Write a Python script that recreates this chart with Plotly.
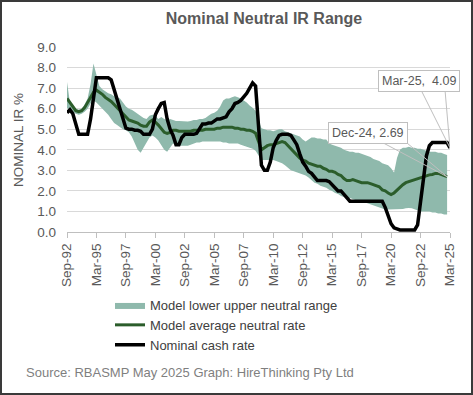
import pandas as pd
import plotly.graph_objects as go

# ---------------- data (quarterly, Sep-92 .. Mar-25) ----------------
start_quarter = "1992-09-01"

cash_rate = [
    5.80, 5.95, 5.75, 5.25, 4.75, 4.75, 4.75, 4.75, 5.50, 6.60,
    7.50, 7.50, 7.50, 7.50, 7.50, 7.40, 6.90, 6.40, 5.95, 5.50,
    5.05, 5.00, 5.00, 4.95, 4.95, 4.90, 4.75, 4.75, 4.75, 5.00,
    5.70, 6.00, 6.25, 6.30, 5.50, 5.00, 4.70, 4.25, 4.25, 4.60,
    4.75, 4.75, 4.75, 4.75, 4.80, 5.00, 5.25, 5.25, 5.30, 5.30,
    5.40, 5.50, 5.50, 5.55, 5.60, 5.85, 6.00, 6.25, 6.30, 6.40,
    6.55, 6.75, 7.00, 7.25, 7.10, 5.20, 3.25, 3.00, 3.00, 3.40,
    4.10, 4.45, 4.70, 4.75, 4.75, 4.75, 4.70, 4.50, 4.25, 3.80,
    3.40, 3.20, 2.95, 2.85, 2.65, 2.50, 2.50, 2.50, 2.50, 2.45,
    2.30, 2.10, 2.00, 2.00, 1.85, 1.65, 1.50, 1.50, 1.50, 1.50,
    1.50, 1.50, 1.50, 1.50, 1.50, 1.50, 1.50, 1.50, 1.20, 0.80,
    0.40, 0.20, 0.15, 0.10, 0.10, 0.10, 0.10, 0.10, 0.10, 0.35,
    1.50, 2.60, 3.70, 4.20, 4.35, 4.35, 4.35, 4.35, 4.35, 4.35,
    4.09,
]

avg_neutral = [
    6.50, 6.30, 6.05, 5.90, 5.85, 5.90, 6.05, 6.30, 6.55, 6.80,
    6.90, 6.80, 6.70, 6.55, 6.45, 6.35, 6.20, 6.05, 5.90, 5.75,
    5.55, 5.45, 5.40, 5.35, 5.30, 5.20, 5.15, 5.15, 5.35, 5.45,
    5.35, 5.20, 5.00, 4.85, 4.80, 4.85, 4.95, 4.95, 4.90, 4.90,
    4.90, 4.90, 4.90, 4.95, 4.95, 4.95, 4.95, 5.00, 5.00, 5.00,
    5.00, 5.05, 5.05, 5.10, 5.10, 5.10, 5.10, 5.05, 5.05, 5.00,
    5.00, 4.95, 4.95, 4.90, 4.80, 4.40, 4.00, 4.10, 4.20, 4.25,
    4.25, 4.30, 4.35, 4.40, 4.35, 4.20, 4.00, 3.85, 3.70, 3.60,
    3.50, 3.45, 3.35, 3.30, 3.25, 3.20, 3.20, 3.10, 3.05, 2.95,
    2.95, 2.90, 2.80, 2.75, 2.60, 2.50, 2.50, 2.55, 2.50, 2.45,
    2.40, 2.40, 2.40, 2.35, 2.30, 2.25, 2.20, 2.05, 2.00, 1.90,
    1.82, 1.90, 2.05, 2.15, 2.30, 2.40, 2.45, 2.50, 2.55, 2.60,
    2.65, 2.70, 2.75, 2.78, 2.80, 2.85, 2.85, 2.80, 2.75, 2.69,
]

upper_neutral = [
    7.30, 6.30, 6.05, 6.00, 5.95, 6.00, 6.20, 6.50, 7.20, 8.20,
    7.70, 7.10, 6.95, 6.85, 6.75, 6.70, 6.60, 6.55, 6.50, 6.30,
    6.10, 6.00, 5.95, 5.85, 5.75, 5.65, 5.55, 5.50, 5.65, 5.70,
    5.65, 5.50, 5.60, 5.50, 5.45, 5.50, 5.45, 5.40, 5.40, 5.38,
    5.37, 5.37, 5.40, 5.45, 5.45, 5.50, 5.50, 5.55, 5.65, 5.75,
    5.80, 5.90, 6.10, 6.40, 6.50, 6.50, 6.55, 6.60, 6.55, 6.50,
    6.40, 6.30, 6.15, 6.05, 5.90, 5.50, 5.05, 5.00, 4.95, 4.95,
    4.90, 4.95, 5.00, 5.00, 4.90, 4.85, 4.80, 4.75, 4.70, 4.65,
    4.50, 4.40, 4.50, 4.60, 4.60, 4.55, 4.55, 4.50, 4.50, 4.30,
    4.25, 4.20, 4.15, 4.10, 4.00, 3.95, 3.90, 3.90, 3.85, 3.85,
    3.80, 3.75, 3.70, 3.65, 3.55, 3.50, 3.45, 3.35, 3.30, 3.25,
    3.10, 2.90, 3.60, 4.00, 4.10, 4.10, 4.15, 4.10, 4.10, 4.05,
    4.05, 4.00, 3.95, 3.90, 3.90, 3.90, 3.85, 3.85, 3.80, 3.75,
]

lower_neutral = [
    6.05, 5.90, 5.85, 5.75, 5.70, 5.75, 5.85, 6.00, 6.25, 6.40,
    6.30, 6.15, 6.00, 5.85, 5.70, 5.50, 5.30, 5.20, 5.10, 5.00,
    4.95, 4.85, 4.65, 4.30, 4.00, 3.85, 4.10, 4.40, 4.60, 4.70,
    4.60, 4.45, 4.20, 4.00, 3.90, 4.10, 4.30, 4.25, 4.20, 4.20,
    4.20, 4.20, 4.25, 4.30, 4.35, 4.35, 4.40, 4.40, 4.40, 4.40,
    4.40, 4.40, 4.40, 4.35, 4.35, 4.30, 4.30, 4.30, 4.30, 4.25,
    4.20, 4.15, 4.10, 4.05, 3.95, 3.70, 3.50, 3.50, 3.50, 3.50,
    3.50, 3.45, 3.40, 3.35, 3.25, 3.10, 3.00, 2.95, 2.90, 2.85,
    2.80, 2.75, 2.65, 2.50, 2.40, 2.35, 2.25, 2.20, 2.15, 2.05,
    2.00, 1.90, 1.85, 1.75, 1.70, 1.65, 1.65, 1.60, 1.55, 1.50,
    1.50, 1.45, 1.40, 1.35, 1.30, 1.25, 1.20, 1.15, 1.10, 1.10,
    1.10, 1.10, 1.10, 1.10, 1.12, 1.15, 1.17, 1.15, 1.10, 1.05,
    1.00, 1.00, 1.00, 1.00, 0.95, 0.95, 0.90, 0.90, 0.85, 0.85,
]

tick_labels = ["Sep-92", "Mar-95", "Sep-97", "Mar-00", "Sep-02", "Mar-05", "Sep-07",
               "Mar-10", "Sep-12", "Mar-15", "Sep-17", "Mar-20", "Sep-22", "Mar-25"]

# ---------------- figure ----------------
quarters = pd.date_range(start_quarter, periods=len(cash_rate), freq="3MS")
model_q = quarters[:len(avg_neutral)]
tick_vals = list(quarters[::10])

FONT = "Liberation Sans, Arial, sans-serif"
BAND = "rgb(143,185,172)"
GREEN = "#2b5d2b"
GREY_TXT = "#595959"

fig = go.Figure()
fig.add_trace(go.Scatter(x=model_q, y=upper_neutral, mode="lines", line=dict(width=0),
                         showlegend=False, hoverinfo="skip"))
fig.add_trace(go.Scatter(x=model_q, y=lower_neutral, mode="lines", line=dict(width=0),
                         fill="tonexty", fillcolor=BAND,
                         name="Model lower upper neutral range"))
fig.add_trace(go.Scatter(x=model_q, y=avg_neutral, mode="lines",
                         line=dict(color=GREEN, width=3),
                         name="Model average neutral rate"))
fig.add_trace(go.Scatter(x=quarters, y=cash_rate, mode="lines",
                         line=dict(color="black", width=3.5),
                         name="Nominal cash rate"))

L, R, T, B = 67, 23, 47, 163
W, H = 473, 395
PW, PH = W - L - R, H - T - B


def px_x(px):
    return (px - L) / PW


def px_y(py):
    return (H - B - py) / PH


fig.update_layout(
    width=W, height=H,
    margin=dict(l=L, r=R, t=T, b=B),
    paper_bgcolor="white", plot_bgcolor="white",
    font=dict(family=FONT, color=GREY_TXT),
    title=dict(text="<b>Nominal Neutral IR Range</b>", x=264 / W, xanchor="center",
               y=1 - 18 / H, yanchor="middle", font=dict(size=16, color=GREY_TXT, family=FONT)),
    xaxis=dict(type="date", range=[quarters[0], quarters[-1]],
               tickvals=tick_vals, ticktext=tick_labels, tickangle=-90,
               showgrid=False, showline=True, linecolor="#bfbfbf", linewidth=1,
               ticks="outside", ticklen=5, tickcolor="#bfbfbf",
               tickfont=dict(size=13.5, color=GREY_TXT, family=FONT)),
    yaxis=dict(range=[0, 9], dtick=1, tickformat=".1f", showgrid=True,
               gridcolor="#d9d9d9", gridwidth=1, zeroline=False, showline=False,
               ticklabelstandoff=10,
               tickfont=dict(size=13.5, color=GREY_TXT, family=FONT)),
    legend=dict(x=px_x(110), y=px_y(290), xanchor="left", yanchor="top",
                traceorder="normal",
                bgcolor="rgba(0,0,0,0)", font=dict(size=13, color="#404040", family=FONT),
                tracegroupgap=0, itemwidth=30),
    showlegend=True,
)

annotations = [
    dict(text="NOMINAL IR %", textangle=-90, xref="paper", yref="paper",
         x=px_x(18), y=px_y(140), xanchor="center", yanchor="middle", showarrow=False,
         font=dict(size=13.5, color=GREY_TXT, family=FONT)),
    dict(text="Source: RBASMP May 2025 Graph: HireThinking Pty Ltd", xref="paper", yref="paper",
         x=px_x(24), y=px_y(372), xanchor="left", yanchor="middle", showarrow=False,
         font=dict(size=13, color="#7f7f7f", family=FONT)),
]

# data callouts
last_cash_x, last_cash_y = quarters[-1], cash_rate[-1]
last_avg_x, last_avg_y = model_q[-1], avg_neutral[-1]
callouts = [
    (last_cash_x, last_cash_y, f"{last_cash_x:%b-%y},  {last_cash_y:.2f}", -31, 67, (-29, 58), (-5, 58)),
    (last_avg_x, last_avg_y, f"{last_avg_x:%b-%y}, {last_avg_y:.2f}", -79, 44, (-70, 37), (-44, 37)),
]
shapes = []
for cx, cy, txt, xs, ys, p1, p2 in callouts:
    annotations.append(dict(text=txt, x=cx, y=cy, xref="x", yref="y", xshift=xs, yshift=ys,
                            showarrow=False, bgcolor="white", bordercolor="#bfbfbf", borderwidth=1,
                            borderpad=3, font=dict(size=12.5, color=GREY_TXT, family=FONT)))
    for (dx, dy) in (p1, p2):
        shapes.append(dict(type="line", xref="x", yref="y", xsizemode="pixel", ysizemode="pixel",
                           xanchor=cx, yanchor=cy, x0=0, y0=0, x1=dx, y1=dy,
                           line=dict(color="#bfbfbf", width=1)))

# outer frame
shapes.append(dict(type="rect", xref="paper", yref="paper",
                   x0=px_x(1), x1=px_x(472), y0=px_y(394), y1=px_y(1),
                   line=dict(color="#3a3a3a", width=2), fillcolor="rgba(0,0,0,0)", layer="above"))

fig.update_layout(annotations=annotations, shapes=shapes)
fig.write_html("out.html", config={"displayModeBar": False},
               post_script="document.body.style.margin='0';")
